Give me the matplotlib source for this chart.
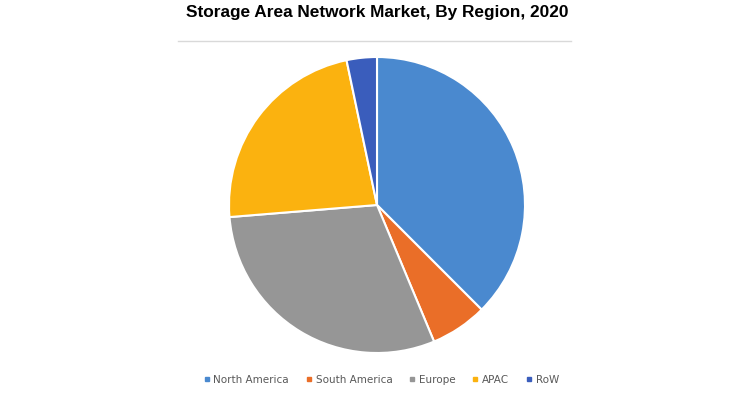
import matplotlib.pyplot as plt
from matplotlib.lines import Line2D

# data
regions = ["North America", "South America", "Europe", "APAC", "RoW"]
shares = [37.5, 6.2, 30.0, 23.0, 3.3]
colors = ["#4A89CF", "#EA6E28", "#969696", "#FBB20F", "#3A5DBC"]

fig = plt.figure(figsize=(7.5, 3.99), dpi=100)

# pie axes, placed in pixels
W, H = 750, 399
cx, cy, r = 377, 205, 148
ax = fig.add_axes([(cx - r) / W, (H - cy - r) / H, 2 * r / W, 2 * r / H])
ax.pie(shares, colors=colors, startangle=90, counterclock=False, radius=1,
       wedgeprops=dict(edgecolor="white", linewidth=1.5))
ax.set_xlim(-1, 1)
ax.set_ylim(-1, 1)
ax.set_aspect("equal")
ax.axis("off")

fig.text(377 / W, 1 - 12 / H, "Storage Area Network Market, By Region, 2020",
         ha="center", va="center", fontsize=12.4, fontweight="bold",
         family="Liberation Sans")
fig.add_artist(Line2D([178 / W, 571 / W], [1 - 41 / H, 1 - 41 / H],
                      color="#D9D9D9", linewidth=1))

handles = [Line2D([], [], marker="s", linestyle="", markersize=3.5,
                  markerfacecolor=c, markeredgecolor=c) for c in colors]
fig.legend(handles, regions, loc="center", bbox_to_anchor=(381 / W, 1 - 380 / H),
           ncol=5, frameon=False, labelcolor="#595959",
           prop={"family": "DejaVu Sans", "size": 7.5},
           handletextpad=0.3, columnspacing=1.55, handlelength=0.7)

fig.savefig("out.png", dpi=100)
